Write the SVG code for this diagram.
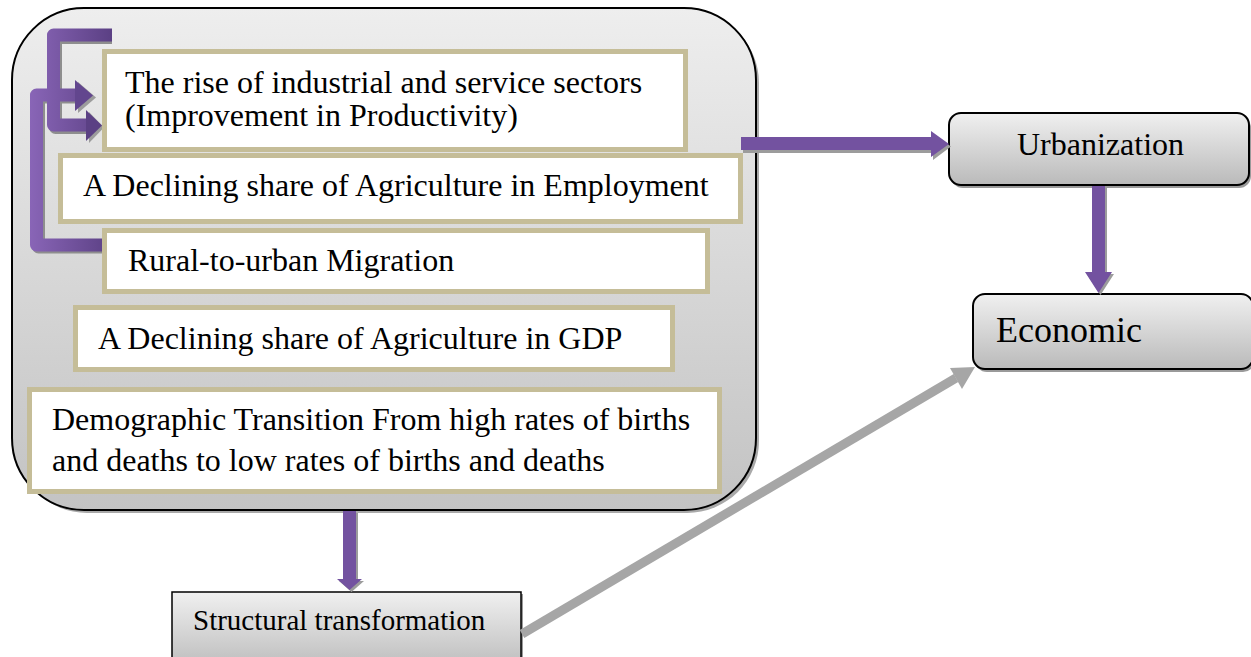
<svg xmlns="http://www.w3.org/2000/svg" width="1251" height="657" viewBox="0 0 1251 657">
<defs>
<linearGradient id="gBig" x1="0" y1="0" x2="0" y2="1"><stop offset="0" stop-color="#eeeeee"/><stop offset="1" stop-color="#c3c3c3"/></linearGradient>
<linearGradient id="gNode" x1="0" y1="0" x2="0" y2="1"><stop offset="0" stop-color="#f0f0f0"/><stop offset="1" stop-color="#bababa"/></linearGradient>
<linearGradient id="gBr" gradientUnits="userSpaceOnUse" x1="28" y1="0" x2="112" y2="0"><stop offset="0" stop-color="#8a66b8"/><stop offset="1" stop-color="#5b4084"/></linearGradient>
<style>
.t{font-family:"Liberation Serif","Times New Roman",serif;fill:#000}
.f32{font-size:32px}
.inner{fill:#fff;stroke:#c5bd98;stroke-width:5}
.node{fill:url(#gNode);stroke:#000;stroke-width:2}
.sh{fill:#9c9c9c}
.pu{fill:#7352a0}
.brs{fill:none;stroke:#8e8e8e;stroke-width:13;stroke-linejoin:round}
.br{fill:none;stroke:url(#gBr);stroke-width:13;stroke-linejoin:round}
</style>
</defs>
<g id="group-main">
<rect x="15" y="11" width="744" height="502" rx="72" fill="#a9a9a9"/>
<rect x="12" y="8" width="744" height="502" rx="72" fill="url(#gBig)" stroke="#000" stroke-width="2"/>
</g>
<g id="brackets">
<path class="brs" d="M112 37.5 H55.5 V127.5 H89" />
<polygon class="sh" points="89,112 104,127.5 89,143"/>
<path class="brs" d="M103 247 H38.5 V97 H78" />
<polygon class="sh" points="78,82 96,97.5 78,113"/>
<path class="br" d="M112 35 H53.5 V125 H87" />
<polygon fill="#5b4084" points="86,110 102,125.5 86,141"/>
<path class="br" d="M103 245 H36.5 V95 H76" />
<polygon fill="#62468e" points="75,80 93,95.5 75,111"/>
</g>
<g id="node-rise">
<rect class="inner" x="104.5" y="51.5" width="581" height="98"/>
<text class="t f32" x="125" y="93">The rise of industrial and service sectors</text>
<text class="t f32" x="125" y="126">(Improvement in Productivity)</text>
</g>
<g id="node-employment">
<rect class="inner" x="60.5" y="155.5" width="680" height="66"/>
<text class="t f32" x="83" y="196">A Declining share of Agriculture in Employment</text>
</g>
<g id="node-migration">
<rect class="inner" x="104.5" y="230.5" width="603" height="61"/>
<text class="t f32" x="128" y="271">Rural-to-urban Migration</text>
</g>
<g id="node-gdp">
<rect class="inner" x="75.5" y="307.5" width="597" height="62"/>
<text class="t f32" x="98" y="349">A Declining share of Agriculture in GDP</text>
</g>
<g id="node-demographic">
<rect class="inner" x="29.5" y="389.5" width="690" height="102"/>
<text class="t f32" x="52" y="430">Demographic Transition From high rates of births</text>
<text class="t f32" x="52" y="471">and deaths to low rates of births and deaths</text>
</g>
<g id="node-urbanization">
<rect x="951" y="116" width="300" height="72" rx="12" fill="#9a9a9a"/>
<rect class="node" x="949" y="113" width="300" height="72" rx="12"/>
<text class="t f32" x="1017" y="155">Urbanization</text>
</g>
<g id="node-economic">
<rect x="975" y="297" width="280" height="75" rx="12" fill="#9a9a9a"/>
<rect class="node" x="973" y="294" width="280" height="75" rx="12"/>
<text class="t" style="font-size:36px" x="996" y="342">Economic</text>
</g>
<g id="node-structural">
<rect x="174" y="594" width="349" height="80" fill="#9a9a9a"/>
<rect x="172" y="592" width="349" height="80" fill="url(#gNode)" stroke="#000" stroke-width="1.5"/>
<text class="t" style="font-size:29px" x="193" y="630">Structural transformation</text>
</g>
<g id="connectors">
<polygon class="sh" points="743,140 933,140 933,134 951,146.5 933,160 933,153 743,153"/>
<polygon class="pu" points="741,137 931,137 931,131 949,144 931,157 931,150 741,150"/>
<polygon class="sh" points="1094,188 1107,188 1107,274 1114,274 1100.5,295 1087,274 1094,274"/>
<polygon class="pu" points="1092,186 1105,186 1105,272 1112,272 1098.5,293 1085,272 1092,272"/>
<polygon class="sh" points="345,513 358,513 358,581 364,581 351.5,592 339,581 345,581"/>
<polygon class="pu" points="343,511 356,511 356,579 362,579 349.5,590 337,579 343,579"/>
<line x1="522" y1="634" x2="956" y2="378" stroke="#a6a6a6" stroke-width="9"/>
<polygon fill="#a6a6a6" points="975,367 962,389 950,368"/>
</g>
</svg>
